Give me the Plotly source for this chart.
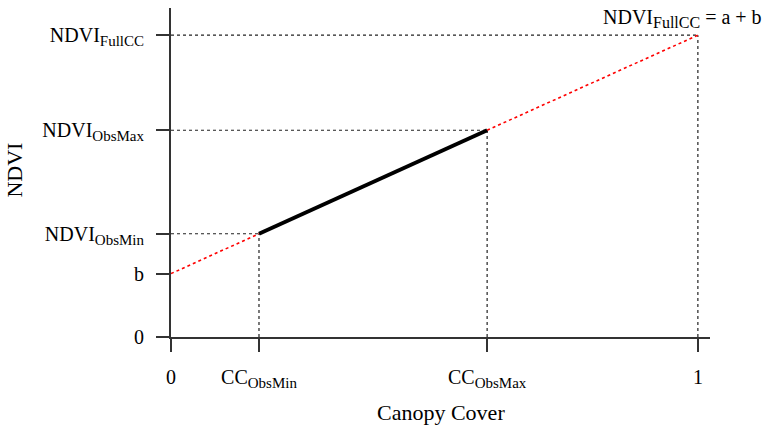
import plotly.graph_objects as go

# Conceptual NDVI vs canopy-cover model: NDVI = a * CC + b
cc_obs_min = 0.167
cc_obs_max = 0.6
cc_full = 1.0
ndvi_b = 0.21
ndvi_obs_min = 0.342
ndvi_obs_max = 0.685
ndvi_full = 1.0


def sub(text, size=15):
    return '<sub><span style="font-size:%dpx">%s</span></sub>' % (size, text)


x_tick_vals = [0, cc_obs_min, cc_obs_max, cc_full]
x_tick_text = ["0", "CC" + sub("ObsMin"), "CC" + sub("ObsMax"), "1"]
y_tick_vals = [0, ndvi_b, ndvi_obs_min, ndvi_obs_max, ndvi_full]
y_tick_text = ["0", "b", "NDVI" + sub("ObsMin"), "NDVI" + sub("ObsMax"), "NDVI" + sub("FullCC")]

FONT = "Liberation Serif, Times New Roman, serif"
GUIDE = dict(color="#222222", width=1.2, dash="dot")

fig = go.Figure()

# dotted guides from the axes to each reference point
guides = [
    ([0, cc_obs_min], [ndvi_obs_min, ndvi_obs_min]),
    ([cc_obs_min, cc_obs_min], [0, ndvi_obs_min]),
    ([0, cc_obs_max], [ndvi_obs_max, ndvi_obs_max]),
    ([cc_obs_max, cc_obs_max], [0, ndvi_obs_max]),
    ([0, cc_full], [ndvi_full, ndvi_full]),
    ([cc_full, cc_full], [0, ndvi_full]),
]
for gx, gy in guides:
    fig.add_trace(go.Scatter(x=gx, y=gy, mode="lines", line=GUIDE,
                             hoverinfo="skip", showlegend=False))

# extrapolated parts of the line (red dotted)
fig.add_trace(go.Scatter(x=[0, cc_obs_min], y=[ndvi_b, ndvi_obs_min], mode="lines",
                         line=dict(color="#ff0000", width=1.6, dash="dot"),
                         showlegend=False))
fig.add_trace(go.Scatter(x=[cc_obs_max, cc_full], y=[ndvi_obs_max, ndvi_full], mode="lines",
                         line=dict(color="#ff0000", width=1.6, dash="dot"),
                         showlegend=False))

# observed range (thick black)
fig.add_trace(go.Scatter(x=[cc_obs_min, cc_obs_max], y=[ndvi_obs_min, ndvi_obs_max],
                         mode="lines", line=dict(color="black", width=4),
                         showlegend=False))

axis_common = dict(
    showgrid=False, zeroline=False, showline=True, linecolor="#333333", linewidth=2,
    ticks="outside", ticklen=13, tickwidth=2, tickcolor="#333333",
    tickfont=dict(family=FONT, size=20, color="black"), tickmode="array",
)

fig.update_xaxes(range=[0, 1.023], tickvals=x_tick_vals, ticktext=x_tick_text,
                 ticklabelstandoff=8, **axis_common)
fig.update_yaxes(range=[0, 1.09], tickvals=y_tick_vals, ticktext=y_tick_text,
                 ticklabelstandoff=8, **axis_common)

fig.add_annotation(text="Canopy Cover", xref="paper", yref="paper", x=0.5, y=-0.228,
                   xanchor="center", yanchor="middle", showarrow=False,
                   font=dict(family=FONT, size=22, color="black"))
fig.add_annotation(text="NDVI", xref="paper", yref="paper", x=-0.29, y=0.508,
                   textangle=-90, xanchor="center", yanchor="middle", showarrow=False,
                   font=dict(family=FONT, size=22, color="black"))
fig.add_annotation(text="NDVI" + sub("FullCC", 16) + " = a + b", x=cc_full, y=ndvi_full,
                   xanchor="center", yanchor="bottom", showarrow=False, xshift=-15, yshift=2,
                   font=dict(family=FONT, size=20, color="black"))

fig.update_layout(
    width=768, height=426,
    margin=dict(l=171, r=58, t=8, b=89),
    plot_bgcolor="white", paper_bgcolor="white",
)

fig.write_html("out.html")
